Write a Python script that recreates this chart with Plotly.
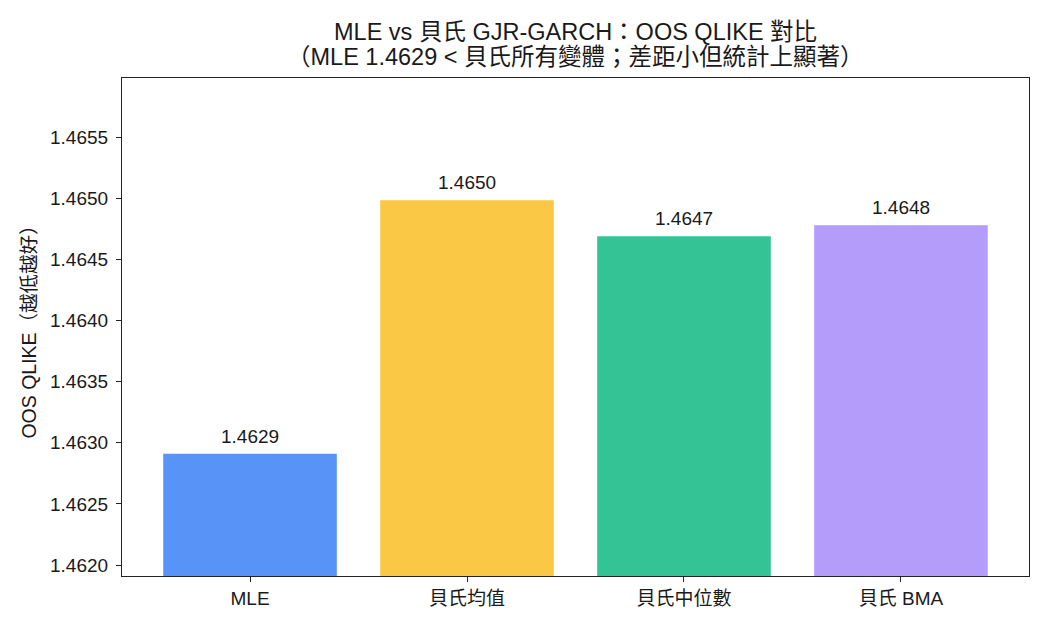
import plotly.graph_objects as go

categories = ["MLE", "貝氏均值", "貝氏中位數", "貝氏 BMA"]
qlike = [1.46291, 1.464984, 1.464689, 1.464779]
labels = ["1.4629", "1.4650", "1.4647", "1.4648"]
colors = ["#5894F7", "#FBC845", "#33C394", "#B49CFA"]
ytick_vals = [1.4620, 1.4625, 1.4630, 1.4635, 1.4640, 1.4645, 1.4650, 1.4655]
title_lines = ["MLE vs 貝氏 GJR-GARCH：OOS QLIKE 對比",
               "（MLE 1.4629 < 貝氏所有變體；差距小但統計上顯著）"]

FONT = "Liberation Sans, Noto Sans CJK TC"
PLOT_T, PLOT_B = 78, 576
PH = PLOT_B - PLOT_T

fig = go.Figure()
fig.add_trace(go.Bar(
    x=list(range(len(categories))), y=qlike, width=0.8,
    marker=dict(color=colors, line=dict(width=0)),
    showlegend=False, hoverinfo="skip",
))

for i, (v, t) in enumerate(zip(qlike, labels)):
    fig.add_annotation(x=i, y=v, text=t, showarrow=False, yanchor="bottom",
                       yshift=5, font=dict(family=FONT, size=19, color="#1a1a1a"))

for line, ypx in zip(title_lines, [32, 57]):
    fig.add_annotation(xref="paper", yref="paper", x=0.5, y=1 + (PLOT_T - ypx) / PH,
                       text=line, showarrow=False, xanchor="center", yanchor="middle",
                       font=dict(family=FONT, size=23.5, color="#1a1a1a"))

ymin = min(qlike) - 0.001
ymax = max(qlike) + 0.001

fig.update_layout(
    width=1050, height=630,
    margin=dict(l=122, r=21, t=PLOT_T, b=630 - PLOT_B),
    plot_bgcolor="white", paper_bgcolor="white",
    font=dict(family=FONT, size=19, color="#1a1a1a"),
)

fig.update_xaxes(
    tickmode="array", tickvals=list(range(len(categories))), ticktext=categories,
    range=[-0.59, 3.59], showline=True, linecolor="#222", linewidth=1.2, mirror=True,
    ticks="outside", ticklen=5, tickcolor="#222", showgrid=False, zeroline=False,
    tickfont=dict(family=FONT, size=19),
)
fig.update_yaxes(
    range=[ymin, ymax], tickmode="array", tickvals=ytick_vals,
    ticktext=[f"{v:.4f}" for v in ytick_vals],
    showline=True, linecolor="#222", linewidth=1.2, mirror=True,
    ticks="outside", ticklen=5, tickcolor="#222", showgrid=False, zeroline=False,
    tickfont=dict(family=FONT, size=19), ticklabelstandoff=4,
    title=dict(text="OOS QLIKE（越低越好）", font=dict(family=FONT, size=19.5), standoff=8),
)

fig.write_html("out.html")
